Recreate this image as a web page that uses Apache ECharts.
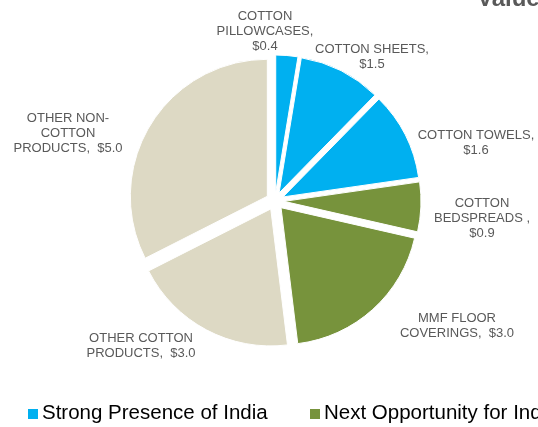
<!DOCTYPE html>
<html>
<head>
<meta charset="utf-8">
<script src="https://cdn.jsdelivr.net/npm/echarts@6/dist/echarts.min.js"></script>
<style>html,body{margin:0;padding:0;background:#fff;}#c{width:538px;height:427px;}</style>
</head>
<body>
<div id="c"></div>
<script>
const categories = [
  "COTTON\nPILLOWCASES,\n$0.4",
  "COTTON SHEETS,\n$1.5",
  "COTTON TOWELS,\n$1.6",
  "COTTON\nBEDSPREADS ,\n$0.9",
  "MMF FLOOR\nCOVERINGS,  $3.0",
  "OTHER COTTON\nPRODUCTS,  $3.0",
  "OTHER NON-\nCOTTON\nPRODUCTS,  $5.0"
];
const values = [0.4, 1.5, 1.6, 0.9, 3.0, 3.0, 5.0];
const groups = ["strong", "strong", "strong", "next", "next", "other", "other"];
const legendNames = ["Strong Presence of India", "Next Opportunity for India"];
const titleText = "Value of Imports";

const colorMap = { strong: "#00B0F0", next: "#77933C", other: "#DDD9C4" };
const labelPos = [[265, 31], [372, 57], [476, 143], [482, 218], [457, 326], [141, 346], [68, 133]];

const chart = echarts.init(document.getElementById('c'), null, { renderer: 'canvas' });
chart.setOption({
  animation: false,
  backgroundColor: '#fff',
  series: [{
    type: 'pie',
    center: [275, 201],
    radius: [0, 137],
    startAngle: 90,
    clockwise: true,
    selectedMode: 'multiple',
    selectedOffset: 9,
    avoidLabelOverlap: false,
    emphasis: { disabled: true },
    data: values.map((v, i) => ({
      value: v,
      name: categories[i],
      selected: true,
      itemStyle: { color: colorMap[groups[i]] }
    })),
    itemStyle: { borderColor: '#fff', borderWidth: 1 },
    label: {
      show: true,
      position: 'outside',
      formatter: '{b}',
      color: '#595959',
      fontFamily: 'Liberation Sans, Arial, sans-serif',
      fontSize: 13,
      lineHeight: 15,
      align: 'center'
    },
    labelLine: { show: false },
    labelLayout: function () { return { align: 'center', verticalAlign: 'middle' }; }
  }],
  graphic: [
    { type: 'text', left: 477, top: -13, style: { text: titleText, fill: '#595959', font: 'bold 24px "Liberation Sans", Arial, sans-serif' } },
    { type: 'rect', shape: { x: 28, y: 409, width: 10, height: 10 }, style: { fill: colorMap.strong } },
    { type: 'text', left: 42, top: 403, style: { text: legendNames[0], fill: '#000', font: '20.5px "Liberation Sans", Arial, sans-serif' } },
    { type: 'rect', shape: { x: 310, y: 409, width: 10, height: 10 }, style: { fill: colorMap.next } },
    { type: 'text', left: 324, top: 403, style: { text: legendNames[1], fill: '#000', font: '20.5px "Liberation Sans", Arial, sans-serif' } }
  ]
});
// Measure each centred label and shift it to its place in the reference.
const data = chart.getModel().getSeriesByIndex(0).getData();
const offsets = [];
for (let i = 0; i < values.length; i++) {
  const el = data.getItemGraphicEl(i);
  const txt = el && el.getTextContent();
  if (txt) {
    const r = txt.getBoundingRect().clone();
    r.applyTransform(txt.getComputedTransform());
    offsets.push([labelPos[i][0] - (r.x + r.width / 2), labelPos[i][1] - (r.y + r.height / 2)]);
  } else offsets.push([0, 0]);
}
chart.setOption({
  series: [{
    labelLayout: function (p) {
      const o = offsets[p.dataIndex];
      return { dx: o[0], dy: o[1], align: 'center', verticalAlign: 'middle' };
    }
  }]
});
</script>
</body>
</html>
